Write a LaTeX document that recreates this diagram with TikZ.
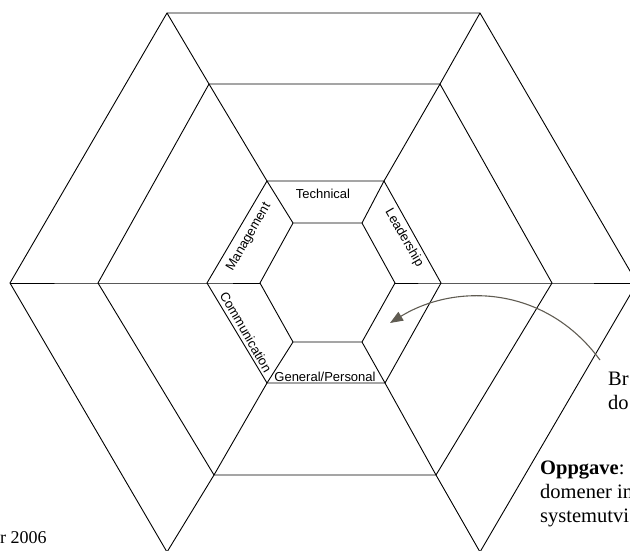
\documentclass[tikz,border=0pt]{standalone}
\usepackage{fontspec}
\setmainfont{Liberation Serif}
\newfontfamily\labelfont{Liberation Sans}
\usetikzlibrary{arrows.meta}
\definecolor{arrowgray}{RGB}{96,92,82}
\tikzset{
  ring/.style={draw=black, line width=0.9pt, line join=miter},
  spoke/.style={draw=black, line width=0.9pt},
  area/.style={font=\labelfont\fontsize{13}{15}\selectfont, inner sep=0pt},
  note/.style={font=\fontsize{20.5}{24}\selectfont, inner sep=0pt, anchor=base west},
  pointer/.style={draw=arrowgray, line width=1.1pt,
    -{Triangle[length=13pt,width=10pt]}},
}
\begin{document}
\begin{tikzpicture}[x=1pt,y=-1pt]
\useasboundingbox (0,0) rectangle (630,550);

% corners of the four rings, in the order L, TL, TR, R, BR, BL
\coordinate (a1) at (10,283);  \coordinate (a2) at (167,13);
\coordinate (a3) at (480,13);  \coordinate (a4) at (637,283);
\coordinate (a5) at (480,552); \coordinate (a6) at (167,552);

\coordinate (b1) at (98,283);  \coordinate (b2) at (209,84);
\coordinate (b3) at (440,84);  \coordinate (b4) at (552,283);
\coordinate (b5) at (436,475); \coordinate (b6) at (214,475);

\coordinate (c1) at (207,283); \coordinate (c2) at (267,181);
\coordinate (c3) at (384,181); \coordinate (c4) at (441,283);
\coordinate (c5) at (385,383); \coordinate (c6) at (267,383);

\coordinate (d1) at (260,283); \coordinate (d2) at (293,223);
\coordinate (d3) at (362,223); \coordinate (d4) at (395,283);
\coordinate (d5) at (362,342); \coordinate (d6) at (293,342);

% concentric rings
\foreach \r in {a,b,c,d}
  \draw[ring] (\r1) -- (\r2) -- (\r3) -- (\r4) -- (\r5) -- (\r6) -- cycle;

% spokes joining matching corners
\foreach \i in {1,...,6}
  \draw[spoke] (d\i) -- (c\i) -- (b\i) -- (a\i);

% competence areas
\node[area, anchor=base] (technical) at (323,198) {Technical};
\node[area, rotate=60] (management) at (249,237) {Management};
\node[area, rotate=-60] (leadership) at (404,238) {Leadership};
\node[area, rotate=-60] (communication) at (246,332) {Communication};
\node[area, anchor=base] (general) at (325,381) {General/Personal};

% notes at the right and bottom
\node[note] (br) at (608,385) {Br};
\node[note] (do) at (608,409) {do};
\node[note] (oppgave) at (540,474) {\textbf{Oppgave}:};
\node[note] (domener) at (540,498) {domener in};
\node[note] (system) at (540,522) {systemutvi};
\node[note, font=\fontsize{18}{21}\selectfont] (year) at (0,543) {r 2006};

% pointer into the lower right area
\coordinate (tail) at (600,360);
\coordinate (tip) at (390,323);
\draw[pointer] (tail) .. controls (545,285) and (455,283) .. (tip);
\end{tikzpicture}
\end{document}
